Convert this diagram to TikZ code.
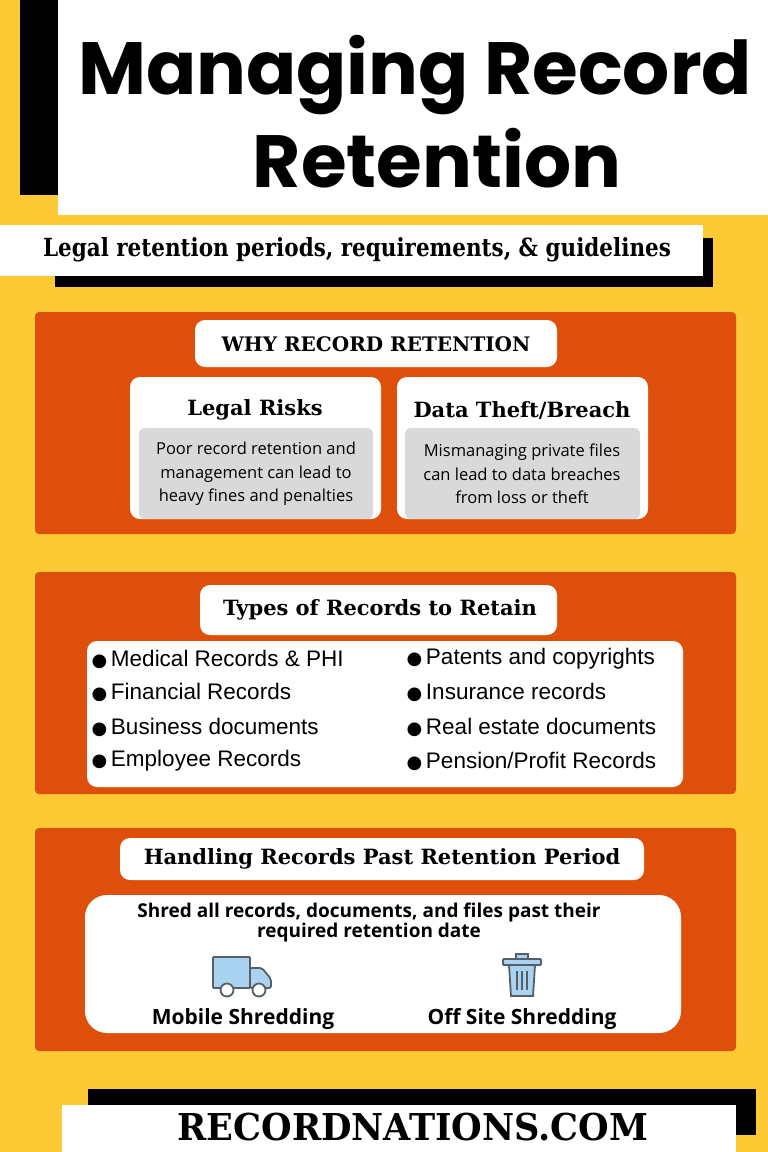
\documentclass[tikz,border=0pt]{standalone}
\usepackage{fontspec}
\setmainfont{DejaVu Serif}
\newfontfamily\titlefont{Poppins}
\newfontfamily\bodyfont{Open Sans}
\newfontfamily\itemfont{Liberation Sans}
\newfontfamily\symfont{DejaVu Sans}
\definecolor{bgy}{HTML}{FDC935}
\definecolor{org}{HTML}{DD4F0A}
\definecolor{gry}{HTML}{D9D9D9}
\definecolor{icb}{HTML}{A9D3F0}
\definecolor{icl}{HTML}{555F66}
\tikzset{
 panel/.style={fill=org,rounded corners=4pt,draw=none},
 wbox/.style={fill=white,rounded corners=10pt,draw=none},
 gbox/.style={fill=gry,rounded corners=6pt,draw=none},
 head/.style={font=\fontsize{21}{24}\selectfont\bfseries},
 sub/.style={font=\fontsize{20}{24}\selectfont\bfseries},
 body/.style={font=\bodyfont\fontsize{16.5}{23.5}\selectfont,align=center},
 item/.style={font=\itemfont\fontsize{22.5}{24}\selectfont,anchor=west},
 bold3/.style={font=\bodyfont\bfseries\fontsize{21}{22}\selectfont},
}
\newcommand{\bul}{{\symfont\fontsize{18}{20}\selectfont●}\,}
\begin{document}
\begin{tikzpicture}[x=1pt,y=-1pt]
\useasboundingbox (0,0) rectangle (768,1152);
\fill[bgy] (0,0) rectangle (768,1152);
% title
\fill[black] (20,0) rectangle (58,195);
\fill[white] (58,0) rectangle (768,215);
\node[font=\titlefont\bfseries\fontsize{74}{78}\selectfont,xscale=1.0] (t1) at (415,75) {Managing Record};
\node[font=\titlefont\bfseries\fontsize{74}{78}\selectfont] (t2) at (437,158) {Retention};
% subtitle
\fill[black] (55,238) rectangle (713,287);
\fill[white] (0,225) rectangle (703,276);
\node[font=\fontsize{25}{27}\selectfont\bfseries,xscale=0.86] (st) at (357,250) {Legal retention periods, requirements, \& guidelines};
% section 1
\fill[panel] (35,312) rectangle (736,534);
\fill[wbox] (195,320) rectangle (557,367);
\node[sub] (h1) at (376,344) {WHY RECORD RETENTION};
\fill[wbox] (130,377) rectangle (381,519);
\fill[wbox] (397,377) rectangle (648,519);
\node[head] (lr) at (255,410) {Legal Risks};
\node[head] (dt) at (522,410) {Data Theft/Breach};
\fill[gbox] (139,428) rectangle (373,519);
\fill[gbox] (405,428) rectangle (640,519);
\node[body] (lrt) at (256,474) {Poor record retention and\\management can lead to\\heavy fines and penalties};
\node[body] (dtt) at (522,474) {Mismanaging private files\\can lead to data breaches\\from loss or theft};
% section 2
\fill[panel] (35,572) rectangle (736,794);
\fill[wbox] (200,585) rectangle (557,635);
\node[head] (h2) at (380,610) {Types of Records to Retain};
\fill[wbox] (87,641) rectangle (683,787);
\node[item] (a1) at (88,659) {\bul Medical Records \& PHI};
\node[item] (a2) at (88,692) {\bul Financial Records};
\node[item] (a3) at (88,727) {\bul Business documents};
\node[item] (a4) at (88,761) {\bul Employee Records};
\node[item] (b1) at (403,659) {\bul Patents and copyrights};
\node[item] (b2) at (403,692) {\bul Insurance records};
\node[item] (b3) at (403,727) {\bul Real estate documents};
\node[item] (b4) at (403,761) {\bul Pension/Profit Records};
% section 3
\fill[panel] (35,828) rectangle (736,1051);
\fill[wbox] (120,838) rectangle (644,880);
\node[head] (h3) at (382,859) {Handling Records Past Retention Period};
\fill[wbox,rounded corners=22pt] (85,895) rectangle (681,1033);
\node[font=\bodyfont\bfseries\fontsize{19}{16}\selectfont,align=center] (sh) at (369,923) {Shred all records, documents, and files past their\\required retention date};
% truck icon
\begin{scope}[shift={(242,976)},line width=1.8pt,draw=icl]
\draw[fill=icb,rounded corners=1pt] (-29,-19) rectangle (8,12);
\draw[fill=icb,rounded corners=2pt] (8,-8) -- (20,-8) -- (29,3) -- (29,12) -- (8,12) -- cycle;
\draw[fill=white] (-15,14) circle (6.5);
\draw[fill=white] (17,14) circle (6.5);
\end{scope}
% trash icon
\begin{scope}[shift={(522,976)},line width=1.8pt,draw=icl]
\draw[fill=icb] (-13,-11) -- (13,-11) -- (11,20) -- (-11,20) -- cycle;
\draw[fill=icb,rounded corners=1pt] (-19,-17) rectangle (19,-11);
\draw[fill=icb] (-6,-17) rectangle (6,-22);
\draw (-5,-5) -- (-5,14) (0,-5) -- (0,14) (5,-5) -- (5,14);
\end{scope}
\node[bold3] (ms) at (243,1019) {Mobile Shredding};
\node[bold3] (os) at (522,1019) {Off Site Shredding};
% footer
\fill[black] (88,1089) rectangle (756,1135);
\fill[white] (62,1105) rectangle (736,1152);
\node[font=\fontsize{37}{38}\selectfont\bfseries,xscale=0.95] (ft) at (413,1127) {RECORDNATIONS.COM};
\end{tikzpicture}
\end{document}
